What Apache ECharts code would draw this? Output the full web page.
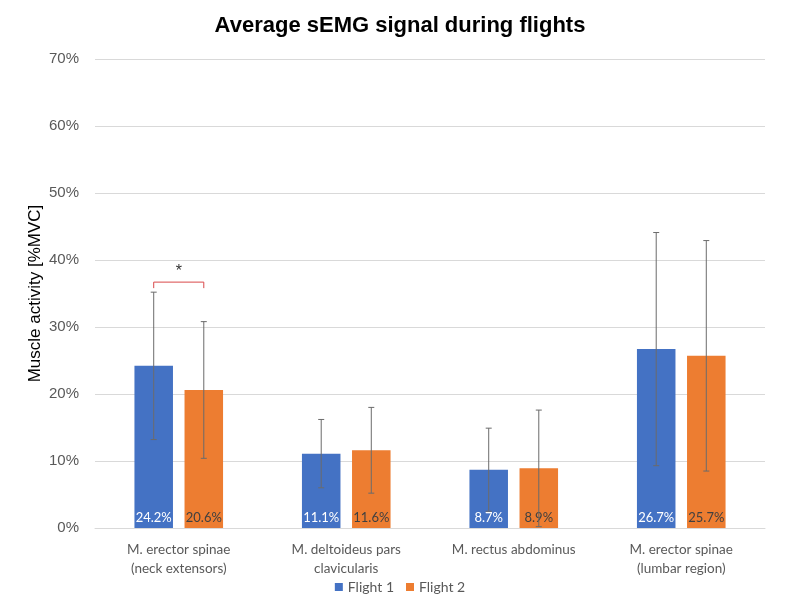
<!DOCTYPE html>
<html><head><meta charset="utf-8">
<script src="https://cdn.jsdelivr.net/npm/echarts@6/dist/echarts.min.js"></script>
<style>html,body{margin:0;padding:0;background:#fff}#c{width:800px;height:600px}</style>
</head><body><div id="c"></div>
<script>
const categories = ['M. erector spinae\n(neck extensors)', 'M. deltoideus pars\nclavicularis', 'M. rectus abdominus', 'M. erector spinae\n(lumbar region)'];
const flight1 = [24.2, 11.1, 8.7, 26.7];
const flight2 = [20.6, 11.6, 8.9, 25.7];
const flight1Err = [11.0, 5.1, 6.2, 17.4];
const flight2Err = [10.2, 6.4, 8.7, 17.2];
// significance bracket: [category index, bracket top value, leg bottom value, star value]
const significance = [[0, 36.7, 35.8, 38.3]];

const BAR_W = 0.23, BAR_GAP = 0.3;
const offsetFrac = (BAR_W * (1 + BAR_GAP)) / 2;

function errItem(sign) {
  return function (params, api) {
    const i = api.value(0);
    const v = api.value(1), e = api.value(2);
    const catW = api.size([1, 0])[0];
    const dx = sign * offsetFrac * catW;
    const top = api.coord([i, v + e]);
    const bot = api.coord([i, Math.max(0, v - e)]);
    const x = top[0] + dx;
    const cap = 3;
    const style = { stroke: '#6b6b6b', lineWidth: 1 };
    return {
      type: 'group',
      children: [
        { type: 'line', shape: { x1: x, y1: top[1], x2: x, y2: bot[1] }, style },
        { type: 'line', shape: { x1: x - cap, y1: top[1], x2: x + cap, y2: top[1] }, style },
        { type: 'line', shape: { x1: x - cap, y1: bot[1], x2: x + cap, y2: bot[1] }, style }
      ]
    };
  };
}

const chart = echarts.init(document.getElementById('c'));
chart.setOption({
  animation: false,
  title: {
    text: 'Average sEMG signal during flights',
    left: 'center', top: 10,
    textStyle: { fontFamily: 'Liberation Sans', fontSize: 22, fontWeight: 'bold', color: '#000' }
  },
  legend: {
    bottom: 1, left: 'center',
    itemWidth: 8, itemHeight: 8, itemGap: 12, icon: 'rect',
    data: ['Flight 1', 'Flight 2'],
    textStyle: { fontFamily: 'Lato', fontSize: 14, color: '#595959' }
  },
  grid: { left: 95, right: 35, top: 59, bottom: 72 },
  xAxis: {
    type: 'category', data: categories,
    axisTick: { show: false },
    axisLine: { lineStyle: { color: '#d9d9d9' } },
    axisLabel: { fontFamily: 'Lato', fontSize: 13.5, color: '#595959', lineHeight: 19, margin: 12, interval: 0 }
  },
  yAxis: {
    type: 'value', min: 0, max: 70, interval: 10,
    name: 'Muscle activity [%MVC]', nameLocation: 'middle', nameGap: 51, nameMoveOverlap: false,
    nameTextStyle: { fontFamily: 'Liberation Sans', fontSize: 17, color: '#000' },
    axisLabel: { formatter: '{value}%', fontFamily: 'Liberation Sans', fontSize: 15, color: '#595959', margin: 16 },
    splitLine: { lineStyle: { color: '#d9d9d9' } },
    axisLine: { show: false }, axisTick: { show: false }
  },
  series: [
    {
      name: 'Flight 1', type: 'bar', data: flight1,
      barWidth: (BAR_W * 100) + '%', barGap: (BAR_GAP * 100) + '%',
      itemStyle: { color: '#4472C4' },
      label: { show: true, position: 'insideBottom', distance: 4, formatter: '{c}%', color: '#fff', fontFamily: 'Lato', fontSize: 13 }
    },
    {
      name: 'Flight 2', type: 'bar', data: flight2,
      barWidth: (BAR_W * 100) + '%',
      itemStyle: { color: '#ED7D31' },
      label: { show: true, position: 'insideBottom', distance: 4, formatter: '{c}%', color: '#404040', fontFamily: 'Lato', fontSize: 13 }
    },
    {
      type: 'custom', renderItem: errItem(-1), z: 10,
      data: flight1.map((v, i) => [i, v, flight1Err[i]]), silent: true
    },
    {
      type: 'custom', renderItem: errItem(1), z: 10,
      data: flight2.map((v, i) => [i, v, flight2Err[i]]), silent: true
    },
    {
      type: 'custom', z: 10, silent: true,
      data: significance,
      renderItem: function (params, api) {
        const i = api.value(0);
        const catW = api.size([1, 0])[0];
        const dx = offsetFrac * catW;
        const t = api.coord([i, api.value(1)]);
        const b = api.coord([i, api.value(2)]);
        const s = api.coord([i, api.value(3)]);
        const style = { stroke: '#D9484A', lineWidth: 1, fill: null };
        return {
          type: 'group',
          children: [
            { type: 'polyline', shape: { points: [[t[0] - dx, b[1]], [t[0] - dx, t[1]], [t[0] + dx, t[1]], [t[0] + dx, b[1]]] }, style },
            { type: 'text', style: { text: '*', x: s[0], y: s[1], align: 'center', verticalAlign: 'middle', fontSize: 16, fontFamily: 'Liberation Sans', fill: '#333' } }
          ]
        };
      }
    }
  ]
});
</script></body></html>
